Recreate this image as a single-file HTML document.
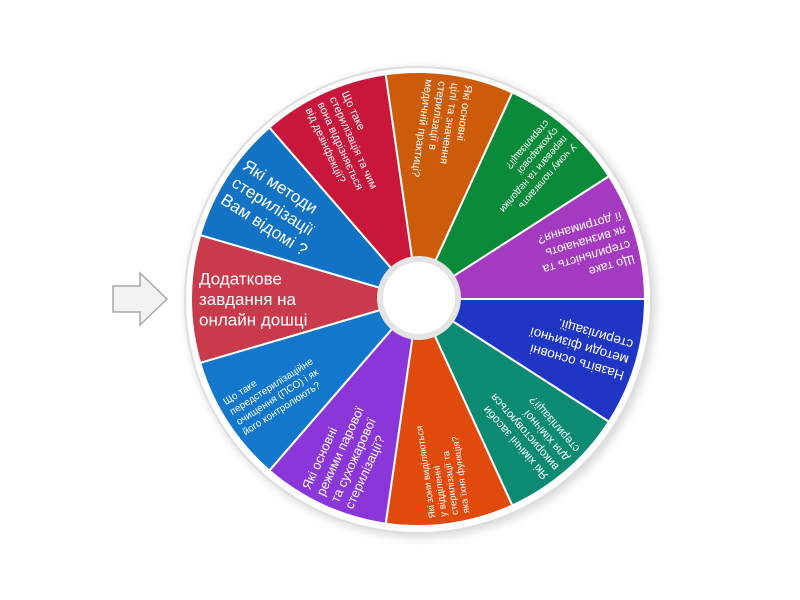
<!DOCTYPE html>
<html><head><meta charset="utf-8"><style>
html,body{margin:0;padding:0;background:#fff;width:800px;height:600px;overflow:hidden}
svg{display:block}
text{font-family:"Liberation Sans","DejaVu Sans",sans-serif;fill:#fff}
</style></head><body>
<svg id="s" width="800" height="600" viewBox="0 0 800 600" xmlns="http://www.w3.org/2000/svg">
<defs>
<filter id="sh" x="-20%" y="-20%" width="140%" height="140%"><feGaussianBlur stdDeviation="5"/></filter>
</defs>
<circle cx="421" cy="303" r="234" fill="#000" opacity="0.16" filter="url(#sh)"/>
<circle cx="418" cy="300" r="234" fill="#dedede"/>
<circle cx="418" cy="300" r="232" fill="#fff"/>
<g id="segs"></g>
<circle cx="419" cy="298" r="42" fill="#e4e4e4"/>
<circle cx="419" cy="298" r="36" fill="#fff"/>
<path d="M113,286 L140,286 L140,273 L167,299 L140,325 L140,312 L113,312 Z" fill="#f2f2f2" stroke="#a8a8a8" stroke-width="1.5"/>
</svg>
<script>
var cx=418,cy=299,R=227,N=11,step=360/N,tilt=0;
var data=[
["#c93a4c",17,["Додаткове","завдання на","онлайн дошці"]],
["#1272c4",17,["Які методи","стерилізації","Вам відомі ?"]],
["#c8173a",11,["Що таке","стерилізація та чим","вона відрізняється","від дезінфекції?"]],
["#cc5c0a",11,["Які основні","цілі та значення","стерилізації в","медичній практиці?"]],
["#0b8a3a",10,["У чому полягають","переваги та недоліки","сухожарової","стерилізації?"]],
["#a43ac0",12.5,["Що таке","стерильність та","як визначають","її дотримання?"]],
["#1f35c4",13.5,["Назвіть основні","методи фізичної","стерилізації."]],
["#0d8a72",11.5,["Які хімічні засоби","використовуються","для хімічної","стерилізації?"]],
["#e04a0c",9.5,["Які зони виділяються","у відділенні","стерилізації та","яка їхня функція?"]],
["#8a36d8",13,["Які основні","режими парової","та сухожарової","стерилізації?"]],
["#1377cc",10,["Що таке","передстерилізаційне","очищення (ПСО) і як","його контролюють?"]]
];
var g=document.getElementById('segs'),h='';
function pt(a,r){a=a*Math.PI/180;return (cx+r*Math.cos(a)).toFixed(2)+','+(cy+r*Math.sin(a)).toFixed(2);}
for(var i=0;i<N;i++){
 var t=180+tilt+i*step,a1=t-step/2,a2=t+step/2,d=data[i];
 h+='<path d="M'+cx+','+cy+' L'+pt(a1,R)+' A'+R+','+R+' 0 0 1 '+pt(a2,R)+' Z" fill="'+d[0]+'" stroke="#fff" stroke-width="2"/>';
 var fs=d[1],lh=fs*1.2,n=d[2].length,y0=cy-(n-1)*lh/2+fs*0.35;
 h+='<g transform="rotate('+(t-180).toFixed(3)+' '+cx+' '+cy+')">';
 for(var k=0;k<n;k++){h+='<text x="'+(cx-219)+'" y="'+(y0+k*lh).toFixed(2)+'" font-size="'+fs+'">'+d[2][k]+'</text>';}
 h+='</g>';
}
g.innerHTML=h;
</script>
</body></html>
